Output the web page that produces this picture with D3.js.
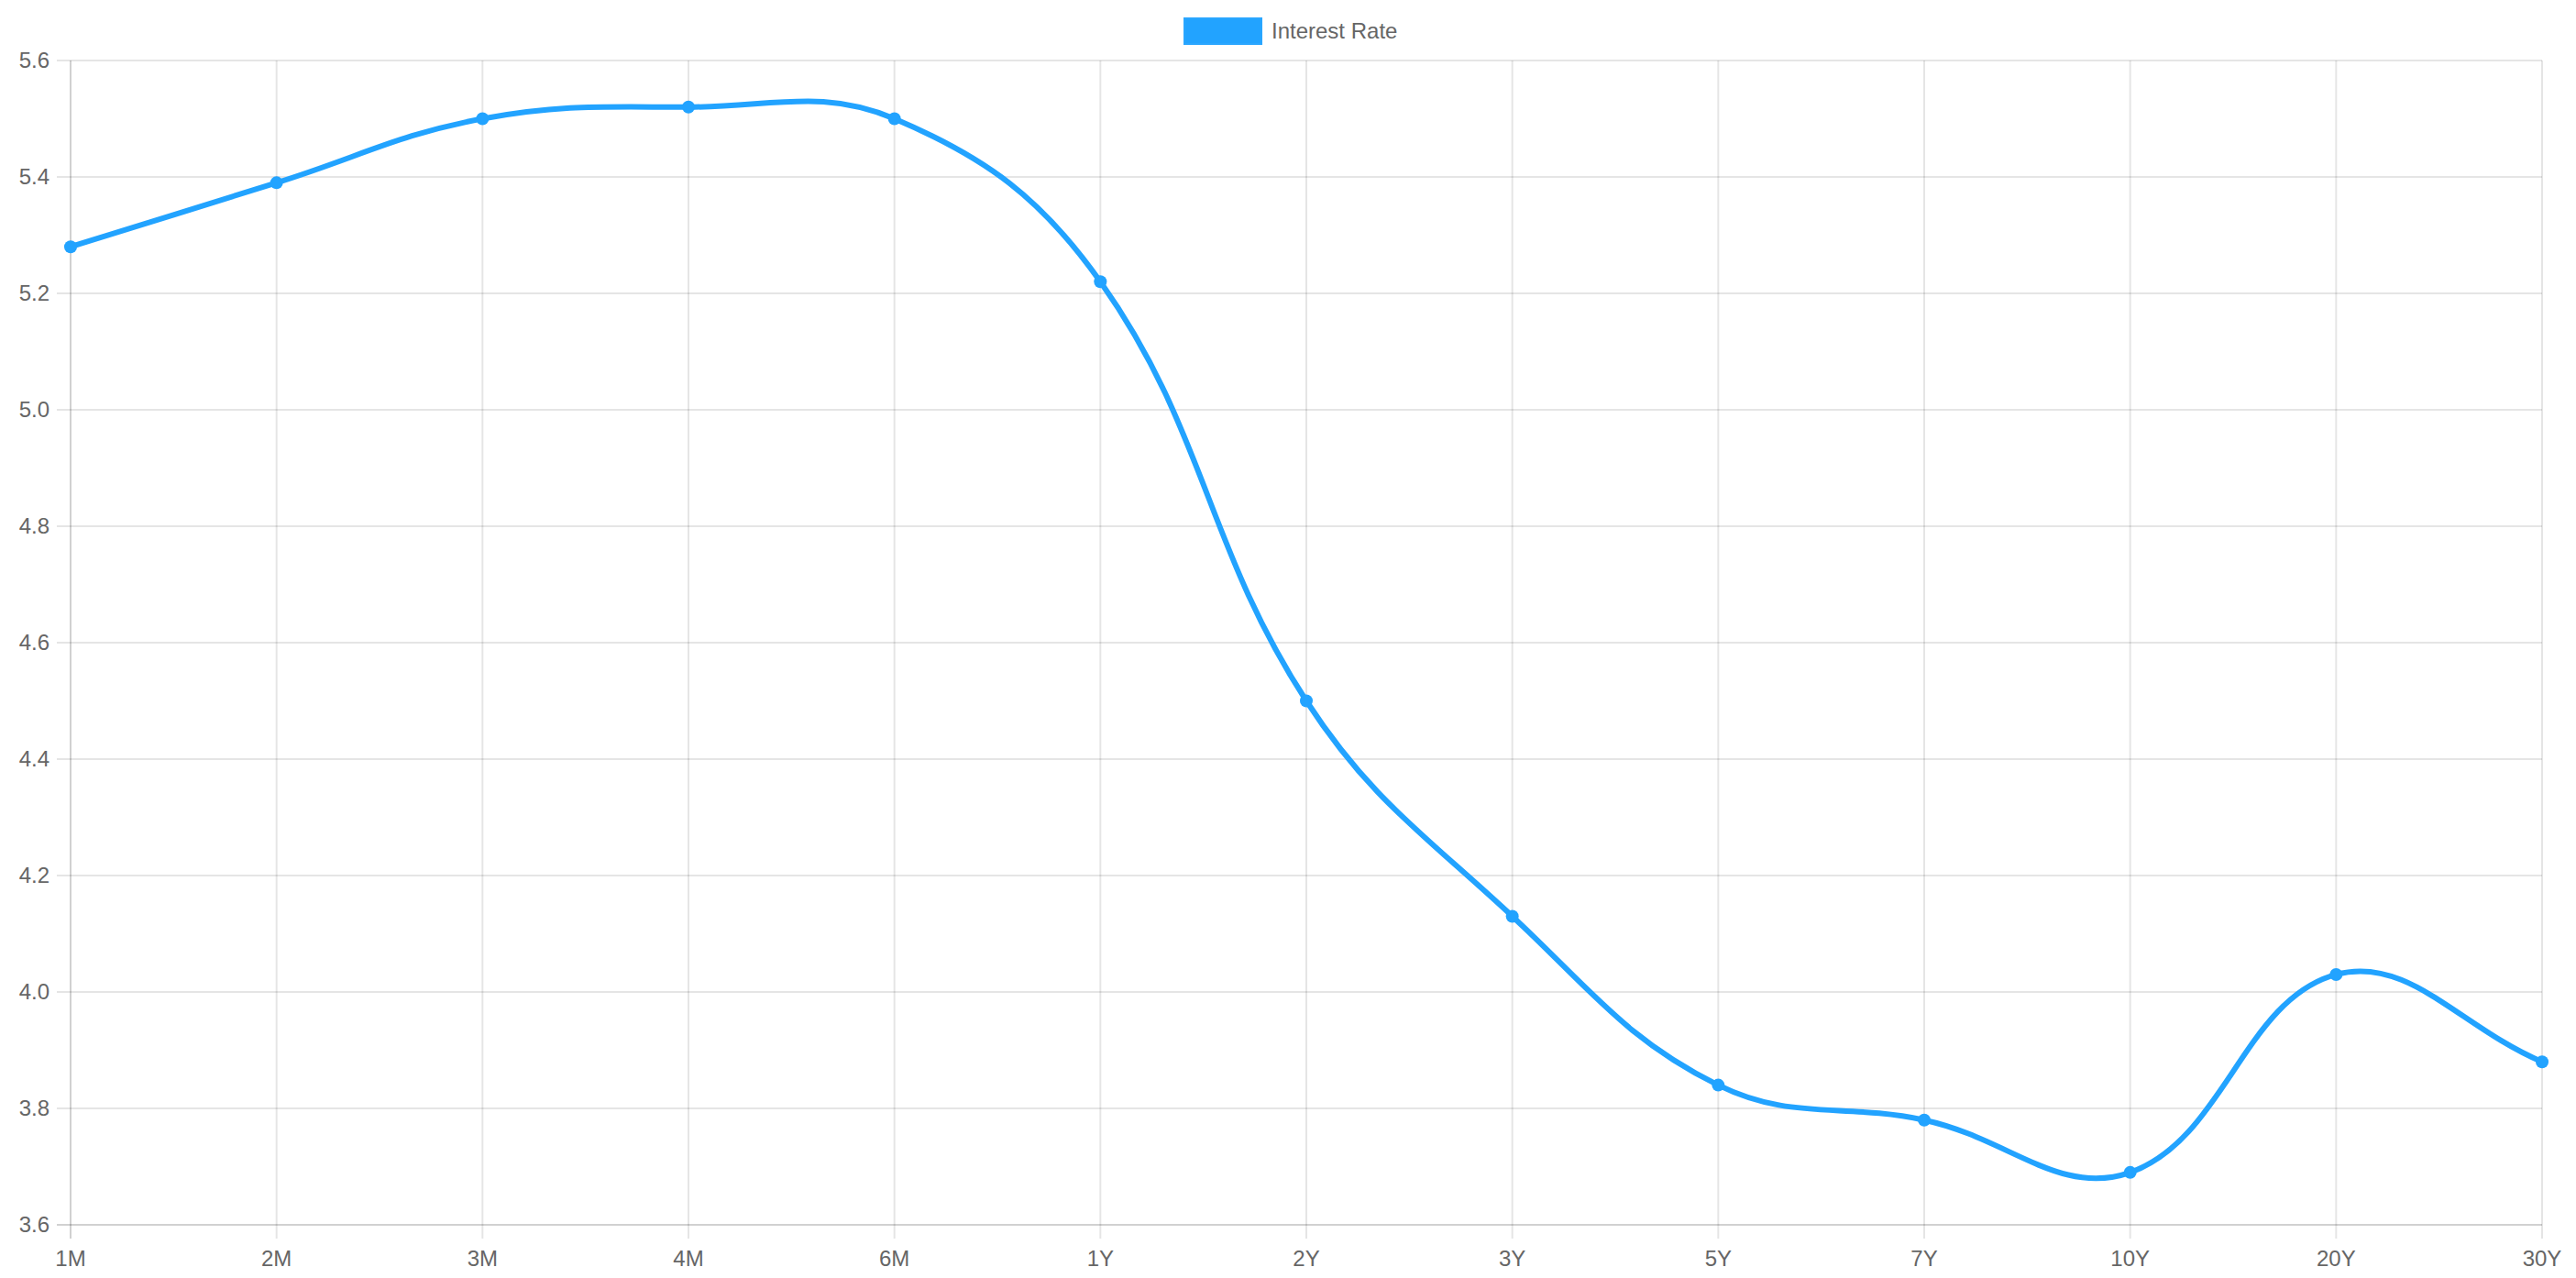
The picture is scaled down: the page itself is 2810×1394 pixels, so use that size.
<!DOCTYPE html>
<html>
<head>
<meta charset="utf-8">
<script src="https://cdn.jsdelivr.net/npm/d3@7"></script>
<style>
html,body{margin:0;padding:0;background:#fff;}
svg{display:block;}
</style>
</head>
<body>
<svg id="chart" width="2810" height="1394"></svg>
<script>
const categories = ["1M","2M","3M","4M","6M","1Y","2Y","3Y","5Y","7Y","10Y","20Y","30Y"];
const rates = [5.28,5.39,5.50,5.52,5.50,5.22,4.50,4.13,3.84,3.78,3.69,4.03,3.88];
const yTicks = [3.6,3.8,4.0,4.2,4.4,4.6,4.8,5.0,5.2,5.4,5.6];
const seriesName = "Interest Rate";

const W = 2810, H = 1394;
const m = {left: 77, right: 2773, top: 66, bottom: 1336};
const color = "#22a3ff";
const font = "'Helvetica Neue', Helvetica, 'Liberation Sans', Arial, sans-serif";

const svg = d3.select("#chart");
const x = d3.scalePoint().domain(categories).range([m.left, m.right]);
const y = d3.scaleLinear().domain([3.6, 5.6]).range([m.bottom, m.top]);

const grid = "rgba(0,0,0,0.1)";
// horizontal grid
svg.append("g").selectAll("line").data(yTicks).join("line")
  .attr("x1", m.left - 15).attr("x2", m.right)
  .attr("y1", d => y(d)).attr("y2", d => y(d))
  .attr("stroke", d => d === 3.6 ? "rgba(0,0,0,0.18)" : grid).attr("stroke-width", 2);
// vertical grid
svg.append("g").selectAll("line").data(categories).join("line")
  .attr("x1", d => x(d)).attr("x2", d => x(d))
  .attr("y1", m.top).attr("y2", m.bottom + 15)
  .attr("stroke", (d,i) => i === 0 ? "rgba(0,0,0,0.18)" : grid).attr("stroke-width", 2);

// y labels
svg.append("g").selectAll("text").data(yTicks).join("text")
  .attr("x", m.left - 23).attr("y", d => y(d))
  .attr("dy", "0.35em").attr("text-anchor", "end")
  .attr("font-family", font).attr("font-size", 24).attr("fill", "#666")
  .text(d => d.toFixed(1));
// x labels
svg.append("g").selectAll("text").data(categories).join("text")
  .attr("x", d => x(d)).attr("y", 1381)
  .attr("text-anchor", "middle")
  .attr("font-family", font).attr("font-size", 24).attr("fill", "#666")
  .text(d => d);

// Chart.js-style spline (tension 0.4)
const pts = categories.map((c,i) => ({x: x(c), y: y(rates[i])}));
const t = 0.4;
const ctrl = pts.map((p, i) => {
  const prev = i === 0 ? p : pts[i-1];
  const next = i === pts.length - 1 ? p : pts[i+1];
  const d01 = Math.hypot(p.x - prev.x, p.y - prev.y);
  const d12 = Math.hypot(next.x - p.x, next.y - p.y);
  let s01 = d01 / (d01 + d12), s12 = d12 / (d01 + d12);
  s01 = isNaN(s01) ? 0 : s01; s12 = isNaN(s12) ? 0 : s12;
  const fa = t * s01, fb = t * s12;
  let cp = {x: p.x - fa * (next.x - prev.x), y: p.y - fa * (next.y - prev.y)};
  let cn = {x: p.x + fb * (next.x - prev.x), y: p.y + fb * (next.y - prev.y)};
  const clampY = v => Math.max(m.top, Math.min(m.bottom, v));
  cp.y = clampY(cp.y); cn.y = clampY(cn.y);
  return {cp, cn};
});
const path = d3.path();
path.moveTo(pts[0].x, pts[0].y);
for (let i = 1; i < pts.length; i++) {
  path.bezierCurveTo(ctrl[i-1].cn.x, ctrl[i-1].cn.y, ctrl[i].cp.x, ctrl[i].cp.y, pts[i].x, pts[i].y);
}
svg.append("path").attr("d", path.toString())
  .attr("fill", "none").attr("stroke", color).attr("stroke-width", 6);

svg.append("g").selectAll("circle").data(rates).join("circle")
  .attr("cx", (d,i) => x(categories[i])).attr("cy", d => y(d))
  .attr("r", 7).attr("fill", color);

// legend
const lg = svg.append("g");
lg.append("rect").attr("x", 1292).attr("y", 20).attr("width", 84).attr("height", 28)
  .attr("fill", color).attr("stroke", "#2aa6ff").attr("stroke-width", 2);
lg.append("text").attr("x", 1387).attr("y", 42)
  .attr("font-family", font).attr("font-size", 24).attr("fill", "#666")
  .text(seriesName);
</script>
</body>
</html>
